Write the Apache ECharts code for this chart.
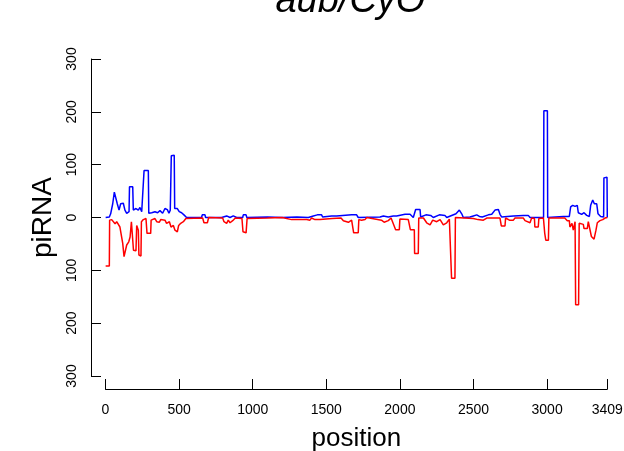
<!DOCTYPE html>
<html>
<head>
<meta charset="utf-8">
<script src="https://cdn.jsdelivr.net/npm/echarts@6/dist/echarts.min.js"></script>
<style>
html,body{margin:0;padding:0;background:#fff;}
#chart{width:624px;height:451px;}
</style>
</head>
<body>
<div id="chart"></div>
<script>
// ---- data ----
const chartTitle = "aub/CyO";
const xName = "position";
const yName = "piRNA";
const xMin = 0, xMax = 3409, xStep = 500;
const yMin = -300, yMax = 300, yStep = 100;

// sense piRNA counts (blue, plotted upward): [position, count]
const senseData = [
[1,0],[26,1],[35,7],[49,26],[60,48],[69,45],[80,26],[92,14],[103,26],[121,27],[132,14],[144,8],[160,11],[163,58],[185,58],[189,14],[207,17],[223,14],[234,19],[246,11],[258,8],[262,89],[291,89],[294,8],[314,9],[336,11],[354,9],[370,13],[388,8],[404,17],[420,15],[431,8],[440,14],[447,117],[467,118],[470,17],[488,17],[501,11],[517,9],[533,5],[551,0],
[653,0],[657,5],[676,5],[680,0],[789,0],[796,3],[823,3],[846,0],[868,3],[891,0],[932,0],[936,5],[955,5],[960,0],
[1100,1],[1200,0],[1300,1],
[1378,0],[1389,3],[1412,3],[1423,0],[1439,5],[1468,5],[1475,1],[1536,3],[1570,3],[1582,0],[1672,5],[1706,5],[1717,0],[1865,1],[1888,3],[1921,1],[1955,3],[1978,3],[1989,0],[2035,6],[2069,6],[2091,0],[2107,15],[2137,15],[2141,1],[2177,5],[2209,4],[2227,0],[2268,5],[2306,4],[2318,0],[2381,7],[2404,14],[2420,7],[2431,0],[2476,1],[2499,3],[2522,5],[2540,2],[2560,1],[2601,5],[2624,6],[2646,14],[2669,15],[2680,6],[2691,1],[2703,3],[2771,3],[2780,0],[2839,4],[2872,4],[2884,0],[2976,0],[2978,202],[3002,202],[3004,0],[3110,2],[3151,2],[3160,20],[3174,23],[3190,21],[3205,23],[3212,9],[3235,6],[3251,9],[3269,4],[3287,2],[3296,23],[3310,33],[3321,26],[3337,26],[3346,7],[3364,2],[3384,1],[3386,75],[3407,76],[3409,0]
];

// antisense piRNA counts (red, plotted downward): [position, count]
const antisenseData = [
[1,92],[26,92],[28,5],[42,4],[53,6],[65,12],[76,8],[87,11],[98,18],[110,15],[117,49],[126,74],[135,77],[144,52],[158,46],[167,37],[176,8],[187,11],[190,62],[207,63],[212,15],[223,24],[227,71],[241,73],[244,8],[257,4],[275,2],[282,30],[307,30],[310,5],[336,2],[348,8],[366,9],[375,4],[404,5],[415,11],[434,8],[445,18],[461,15],[472,24],[488,27],[497,15],[511,11],[529,8],[546,2],[556,0],
[660,1],[669,10],[692,10],[701,0],[796,1],[805,8],[823,11],[834,5],[846,10],[864,6],[882,1],[927,2],[934,27],[955,29],[962,2],[973,0],
[1100,1],[1200,0],[1264,4],[1287,4],[1300,1],[1367,4],[1389,5],[1400,1],[1423,4],[1457,4],[1470,1],[1540,2],[1600,1],[1616,6],[1650,9],[1672,5],[1686,29],[1717,29],[1721,4],[1740,5],[1763,4],[1775,0],[1875,5],[1893,9],[1921,6],[1940,1],[1971,23],[1996,23],[2000,3],[2057,4],[2071,23],[2098,23],[2100,68],[2125,68],[2128,1],[2160,1],[2182,10],[2205,14],[2223,5],[2250,8],[2273,4],[2295,14],[2318,10],[2336,3],[2349,3],[2351,115],[2374,115],[2377,0],[2499,2],[2530,4],[2567,5],[2590,1],[2680,1],[2689,16],[2714,16],[2718,1],[2744,5],[2771,5],[2782,1],[2839,1],[2850,6],[2884,10],[2895,1],[2914,2],[2917,18],[2940,18],[2944,2],[2975,1],[2984,30],[2991,43],[3009,43],[3012,1],[3120,1],[3137,6],[3151,6],[3155,18],[3169,11],[3178,24],[3190,8],[3194,165],[3214,165],[3218,11],[3246,13],[3251,21],[3273,21],[3280,8],[3292,11],[3301,36],[3319,41],[3332,24],[3341,10],[3359,6],[3378,4],[3393,1],[3409,0]
];

// ---- chart ----
const FONT = "'Liberation Sans', Arial, Helvetica, sans-serif";
const chart = echarts.init(document.getElementById('chart'), null, {renderer: 'canvas'});
const gridLeft = 105.5, gridRight = 16.7, gridTop = 59, gridBottom = 75;
const plotCenterX = gridLeft + (624 - gridLeft - gridRight) / 2;

chart.setOption({
  animation: false,
  backgroundColor: '#ffffff',
  graphic: [{
    type: 'text',
    x: plotCenterX - 6,
    y: 1,
    silent: true,
    style: {
      text: chartTitle,
      fontFamily: FONT,
      fontSize: 38,
      fontStyle: 'italic',
      fill: '#000',
      align: 'center',
      verticalAlign: 'middle'
    }
  }],
  grid: {left: gridLeft, right: gridRight, top: gridTop, bottom: gridBottom,
    containLabel: false, outerBoundsMode: 'none'},
  xAxis: {
    type: 'value',
    min: xMin, max: xMax, interval: xStep,
    offset: 13,
    name: xName,
    nameLocation: 'middle',
    nameGap: 37,
    nameTextStyle: {fontFamily: FONT, fontSize: 26, color: '#000'},
    axisLine: {show: true, onZero: false, lineStyle: {color: '#000', width: 1}},
    axisTick: {show: true, inside: true, length: 10, lineStyle: {color: '#000', width: 1}},
    axisLabel: {show: true, margin: 14, fontFamily: FONT, fontSize: 14, color: '#000',
      formatter: v => String(v), showMaxLabel: true, showMinLabel: true},
    splitLine: {show: false}
  },
  yAxis: {
    type: 'value',
    min: yMin, max: yMax, interval: yStep,
    offset: 14.5,
    name: yName,
    nameLocation: 'middle',
    nameGap: 32,
    nameRotate: 90,
    nameTextStyle: {fontFamily: FONT, fontSize: 28, color: '#000'},
    axisLine: {show: true, onZero: false, lineStyle: {color: '#000', width: 1}},
    axisTick: {show: true, inside: true, length: 10, lineStyle: {color: '#000', width: 1}},
    axisLabel: {show: true, rotate: 90, margin: 12, fontFamily: FONT, fontSize: 14, color: '#000',
      formatter: v => String(Math.abs(v))},
    splitLine: {show: false}
  },
  series: [
    {
      name: 'sense',
      type: 'line',
      data: senseData,
      showSymbol: false,
      symbol: 'none',
      silent: true,
      lineStyle: {color: '#0000ff', width: 1.5},
      itemStyle: {color: '#0000ff'}
    },
    {
      name: 'antisense',
      type: 'line',
      data: antisenseData.map(d => [d[0], -d[1]]),
      showSymbol: false,
      symbol: 'none',
      silent: true,
      lineStyle: {color: '#ff0000', width: 1.5},
      itemStyle: {color: '#ff0000'}
    }
  ]
});
</script>
</body>
</html>
